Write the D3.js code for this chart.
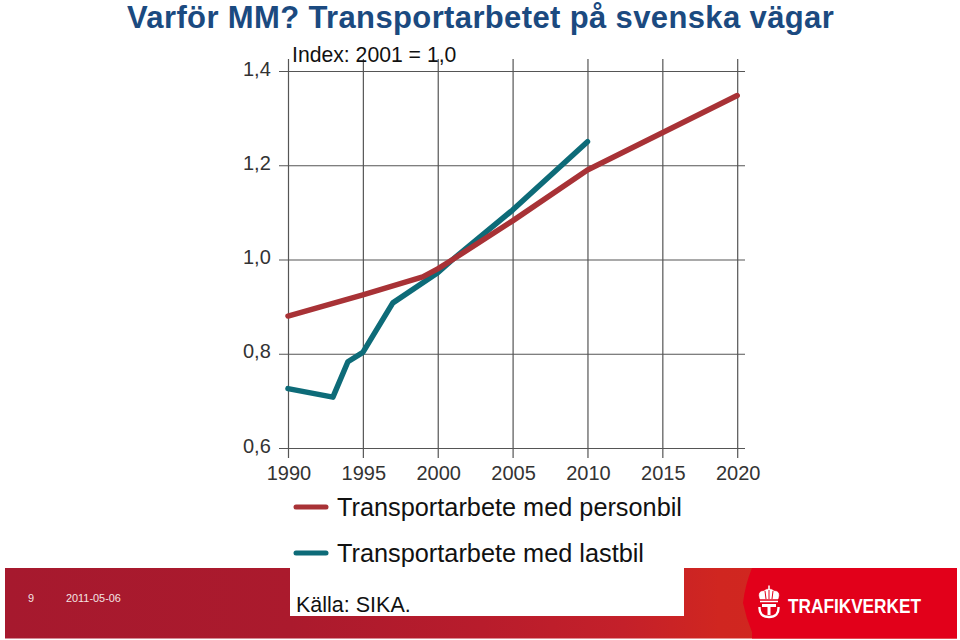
<!DOCTYPE html>
<html>
<head>
<meta charset="utf-8">
<script src="https://cdnjs.cloudflare.com/ajax/libs/d3/7.8.5/d3.min.js"></script>
<style>
    html, body { margin: 0; padding: 0; background: #fff; }
    svg { display: block; }
    text { font-family: "Liberation Sans", Arial, sans-serif; }
</style>
</head>
<body>
<div id="chart"></div>
<script>
const titleText = "Varför MM? Transportarbetet på svenska vägar";
const indexNote = "Index: 2001 = 1,0";
const xTicks = [1990, 1995, 2000, 2005, 2010, 2015, 2020];
const yTicks = [0.6, 0.8, 1.0, 1.2, 1.4];

const carYears = [1990, 1995, 1999, 2000, 2001, 2005, 2010, 2015, 2020];
const carValues = [0.88, 0.925, 0.963, 0.98, 1.0, 1.082, 1.19, 1.269, 1.348];
const truckYears = [1990, 1993, 1994, 1995, 1997, 2000, 2001, 2005, 2010];
const truckValues = [0.726, 0.708, 0.783, 0.803, 0.908, 0.972, 1.0, 1.105, 1.25];

const legendLabels = ["Transportarbete med personbil", "Transportarbete med lastbil"];
const legendColors = ["#a83236", "#0d6b78"];

const svg = d3.select("#chart")
    .append("svg")
    .attr("width", 960)
    .attr("height", 640);

const defs = svg.append("defs");
let grad = defs.append("linearGradient").attr("id", "band");
grad.append("stop").attr("offset", "0%").attr("stop-color", "#a6192e");
grad.append("stop").attr("offset", "30%").attr("stop-color", "#ab1a2d");
grad.append("stop").attr("offset", "50%").attr("stop-color", "#b81c2c");
grad.append("stop").attr("offset", "65%").attr("stop-color", "#c4202a");
grad.append("stop").attr("offset", "75%").attr("stop-color", "#d02620");
grad.append("stop").attr("offset", "100%").attr("stop-color", "#d22a20");

let x = d3.scaleLinear().domain([1990, 2020]).range([288, 737.2]);
let y = d3.scaleLinear().domain([0.6, 1.4]).range([448, 71]);

// title
svg.append("text")
    .attr("x", 127)
    .attr("y", 28.2)
    .attr("font-size", 31)
    .attr("letter-spacing", 0.37)
    .attr("font-weight", "bold")
    .attr("fill", "#1b4a80")
    .text(titleText);

// grid, drawn from the axes with long ticks
svg.append("g")
    .attr("transform", "translate(0,458)")
    .call(d3.axisBottom(x).tickValues(xTicks).tickSize(-399).tickFormat(""))
    .call(g => g.select(".domain").remove())
    .call(g => g.selectAll("line").attr("stroke", "#555").attr("stroke-width", 1.2));

svg.append("g")
    .attr("transform", "translate(745,0)")
    .call(d3.axisLeft(y).tickValues(yTicks).tickSize(466).tickFormat(""))
    .call(g => g.select(".domain").remove())
    .call(g => g.selectAll("line").attr("stroke", "#555").attr("stroke-width", 1.2));

// tick labels
svg.selectAll(".ylab")
    .data(yTicks)
    .join("text")
    .attr("class", "ylab")
    .attr("x", 243)
    .attr("y", d => y(d) + 4.5)
    .attr("font-size", 20)
    .attr("fill", "#333")
    .text(d => d3.format(".1f")(d).replace(".", ","));

svg.selectAll(".xlab")
    .data(xTicks)
    .join("text")
    .attr("class", "xlab")
    .attr("x", d => x(d) + 1)
    .attr("y", 480)
    .attr("text-anchor", "middle")
    .attr("font-size", 20)
    .attr("fill", "#333")
    .text(d => d);

svg.append("text")
    .attr("x", 292)
    .attr("y", 62)
    .attr("font-size", 21.2)
    .attr("fill", "#111")
    .text(indexNote);

// series, truck first since the car line lies on top of it
let line = d3.line().x(d => x(d[0])).y(d => y(d[1]));

svg.append("path")
    .datum(d3.zip(truckYears, truckValues))
    .attr("d", line)
    .attr("fill", "none")
    .attr("stroke", legendColors[1])
    .attr("stroke-width", 5.5)
    .attr("stroke-linecap", "round")
    .attr("stroke-linejoin", "round");

svg.append("path")
    .datum(d3.zip(carYears, carValues))
    .attr("d", line)
    .attr("fill", "none")
    .attr("stroke", legendColors[0])
    .attr("stroke-width", 5.5)
    .attr("stroke-linecap", "round")
    .attr("stroke-linejoin", "round");

// legend
legendLabels.forEach((label, i) => {
    let ly = 507 + i * 46;
    svg.append("line")
        .attr("x1", 296).attr("x2", 326)
        .attr("y1", ly).attr("y2", ly)
        .attr("stroke", legendColors[i])
        .attr("stroke-width", 5)
        .attr("stroke-linecap", "round");
    svg.append("text")
        .attr("x", 337)
        .attr("y", ly + 9)
        .attr("font-size", 25.3)
        .attr("fill", "#111")
        .text(label);
});

// footer band
svg.append("rect")
    .attr("x", 5).attr("y", 568)
    .attr("width", 952).attr("height", 70.5)
    .attr("fill", "url(#band)");
svg.append("rect")
    .attr("x", 290).attr("y", 568)
    .attr("width", 394).attr("height", 48)
    .attr("fill", "#fff");
svg.append("path")
    .attr("d", "M752,568 Q745,585 743,603 Q746,618 752,632 L752,638.5 L957,638.5 L957,568 Z")
    .attr("fill", "#e2001a");

svg.append("text")
    .attr("x", 28).attr("y", 602)
    .attr("font-size", 10.9)
    .attr("fill", "#f4e4e4")
    .text("9");
svg.append("text")
    .attr("x", 66).attr("y", 602)
    .attr("font-size", 10.9)
    .attr("fill", "#f4e4e4")
    .text("2011-05-06");

svg.append("text")
    .attr("x", 296).attr("y", 612)
    .attr("font-size", 21.5)
    .attr("fill", "#111")
    .text("Källa: SIKA.");

// logo: crown above a T in a bowl
let logo = svg.append("g").attr("fill", "none").attr("stroke", "#fff");
logo.append("path")
    .attr("d", "M760,599 Q757,591 764,591 Q766,589 769,589 Q772,589 774,591 Q781,591 778,599 Z")
    .attr("fill", "#fff").attr("stroke-width", 0.5);
logo.append("path")
    .attr("d", "M765,591 L766,599 M769,590 L769,599 M773,591 L772,599")
    .attr("stroke", "#e2001a").attr("stroke-width", 1);
logo.append("path").attr("d", "M769,585.5 L769,589").attr("stroke-width", 1.5);
logo.append("path").attr("d", "M760,601.5 L778,601.5").attr("stroke-width", 1.5);
logo.append("path").attr("d", "M762,605.5 L776,605.5 M769,605 L769,615").attr("stroke-width", 3);
logo.append("path").attr("d", "M759.5,607 Q759,617 769,617 Q779,617 778.5,607").attr("stroke-width", 2.4);

svg.append("text")
    .attr("x", 788).attr("y", 613)
    .attr("font-size", 20)
    .attr("font-weight", "bold")
    .attr("textLength", 133)
    .attr("lengthAdjust", "spacingAndGlyphs")
    .attr("fill", "#fff")
    .text("TRAFIKVERKET");
</script>
</body>
</html>
